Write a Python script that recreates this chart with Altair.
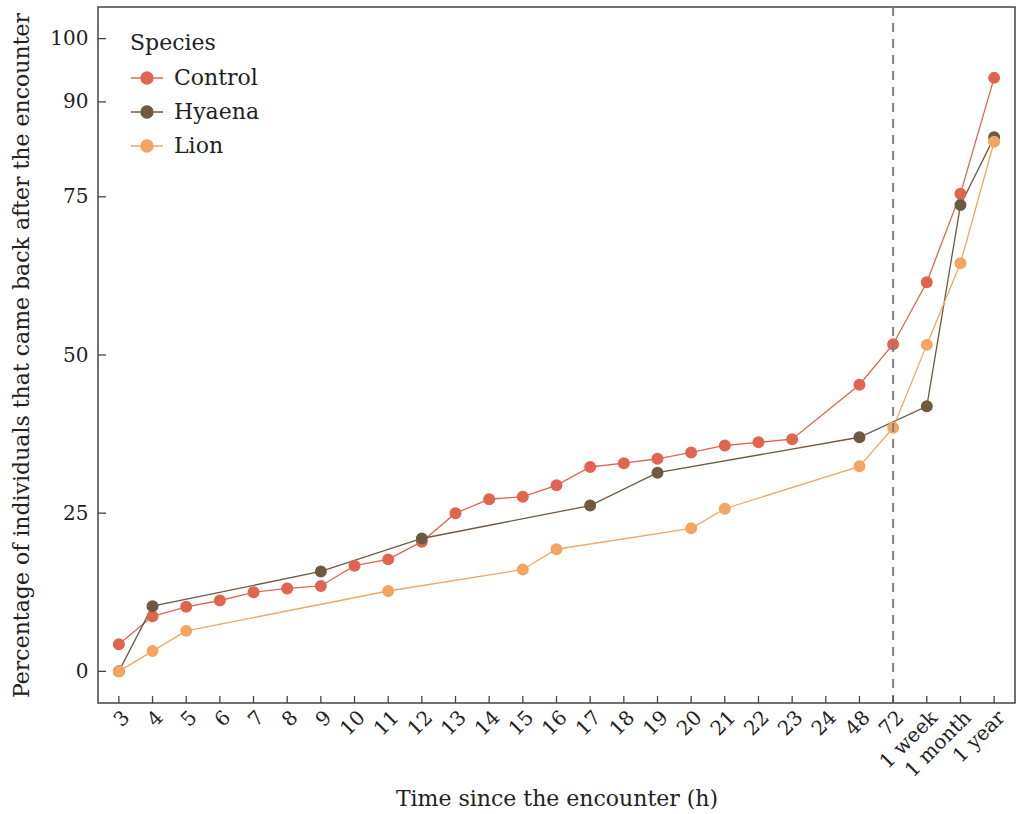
import altair as alt
import pandas as pd

categories = ["3", "4", "5", "6", "7", "8", "9", "10", "11", "12", "13", "14", "15",
              "16", "17", "18", "19", "20", "21", "22", "23", "24", "48", "72",
              "1 week", "1 month", "1 year"]
species = ["Control", "Hyaena", "Lion"]
colors = ["#E0654F", "#6E5A43", "#F3A561"]

control_times = ["3", "4", "5", "6", "7", "8", "9", "10", "11", "12", "13", "14", "15",
                 "16", "17", "18", "19", "20", "21", "22", "23", "48", "72",
                 "1 week", "1 month", "1 year"]
control_values = [4.3, 8.7, 10.2, 11.2, 12.5, 13.1, 13.5, 16.7, 17.7, 20.5, 25.0, 27.2, 27.6,
                  29.4, 32.3, 32.9, 33.6, 34.6, 35.7, 36.2, 36.7, 45.3, 51.7,
                  61.5, 75.5, 93.8]
hyaena_times = ["3", "4", "9", "12", "17", "19", "48", "1 week", "1 month", "1 year"]
hyaena_values = [0.0, 10.3, 15.8, 21.0, 26.2, 31.4, 37.0, 41.9, 73.7, 84.4]
lion_times = ["3", "4", "5", "11", "15", "16", "20", "21", "48", "72",
              "1 week", "1 month", "1 year"]
lion_values = [0.0, 3.2, 6.4, 12.7, 16.1, 19.3, 22.6, 25.7, 32.4, 38.5,
               51.6, 64.5, 83.7]
y_ticks = [0, 25, 50, 75, 90, 100]

rows = []
for sp, times, vals in [("Control", control_times, control_values),
                        ("Hyaena", hyaena_times, hyaena_values),
                        ("Lion", lion_times, lion_values)]:
    for t, v in zip(times, vals):
        rows.append({"Species": sp, "Time": t, "Value": v, "idx": categories.index(t)})
df = pd.DataFrame(rows)

FONT = "DejaVu Serif"
W, H = 917, 696

x_enc = alt.X("Time:N", sort=categories,
              scale=alt.Scale(domain=categories, type="point", padding=0.62),
              axis=alt.Axis(title="Time since the encounter (h)", ticks=False, domain=False,
                            labelAngle=-45, labelAlign="right", labelBaseline="top",
                            labelPadding=4, labelFontSize=20, labelFont=FONT,
                            labelColor="#222", titleFontSize=22, titleFont=FONT,
                            titleFontWeight="normal", titleColor="#222", titlePadding=8,
                            grid=False))
y_enc = alt.Y("Value:Q",
              scale=alt.Scale(domain=[-5, 105], nice=False, zero=False),
              axis=alt.Axis(title="Percentage of individuals that came back after the encounter",
                            values=y_ticks, ticks=False, domain=False, grid=False,
                            labelPadding=10, labelFontSize=20, labelFont=FONT,
                            labelColor="#222", titleFontSize=22, titleFont=FONT,
                            titleFontWeight="normal", titleColor="#222", titlePadding=16))

legend = alt.Legend(
    title="Species", orient="none", legendX=32, legendY=26,
    titleFont=FONT, titleFontSize=22, titleFontWeight="normal", titleColor="#222",
    titlePadding=6, labelFont=FONT, labelFontSize=22, labelColor="#222",
    labelOffset=10, symbolSize=1024, rowPadding=6, padding=0,
    symbolType="M-1,0H1M-0.37,0A0.37,0.37 0 1,0 0.37,0A0.37,0.37 0 1,0 -0.37,0Z",
    symbolStrokeWidth=1.5, symbolOpacity=1,
)
color_enc = alt.Color("Species:N", scale=alt.Scale(domain=species, range=colors), legend=legend)

base = alt.Chart(df).encode(x=x_enc, y=y_enc, color=color_enc)
lines = base.mark_line(strokeWidth=1.3).encode(order="idx:Q")
points = base.mark_point(size=110, opacity=1, filled=True, strokeWidth=1.5).encode(
    stroke=alt.Stroke("Species:N", scale=alt.Scale(domain=species, range=colors), legend=legend))

vline = alt.Chart(pd.DataFrame({"Time": ["72"]})).mark_rule(
    strokeDash=[9, 7], color="#808080", strokeWidth=2).encode(x=x_enc)

yticks = alt.Chart(pd.DataFrame({"Value": y_ticks})).mark_rule(
    color="#444", strokeWidth=1.3).encode(y=y_enc, x=alt.value(0), x2=alt.value(8))
xticks = alt.Chart(pd.DataFrame({"Time": categories})).mark_rule(
    color="#444", strokeWidth=1.3).encode(x=x_enc, y=alt.value(H - 7), y2=alt.value(H))

chart = alt.layer(lines, points, vline, yticks, xticks).properties(
    width=W, height=H, background="white",
    autosize=alt.AutoSizeParams(type="none"),
    padding={"left": 98, "top": 7, "right": 1, "bottom": 111},
).configure_view(stroke="#444", strokeWidth=1.5)

chart.save("out.html", embed_options={"renderer": "svg", "actions": False})
